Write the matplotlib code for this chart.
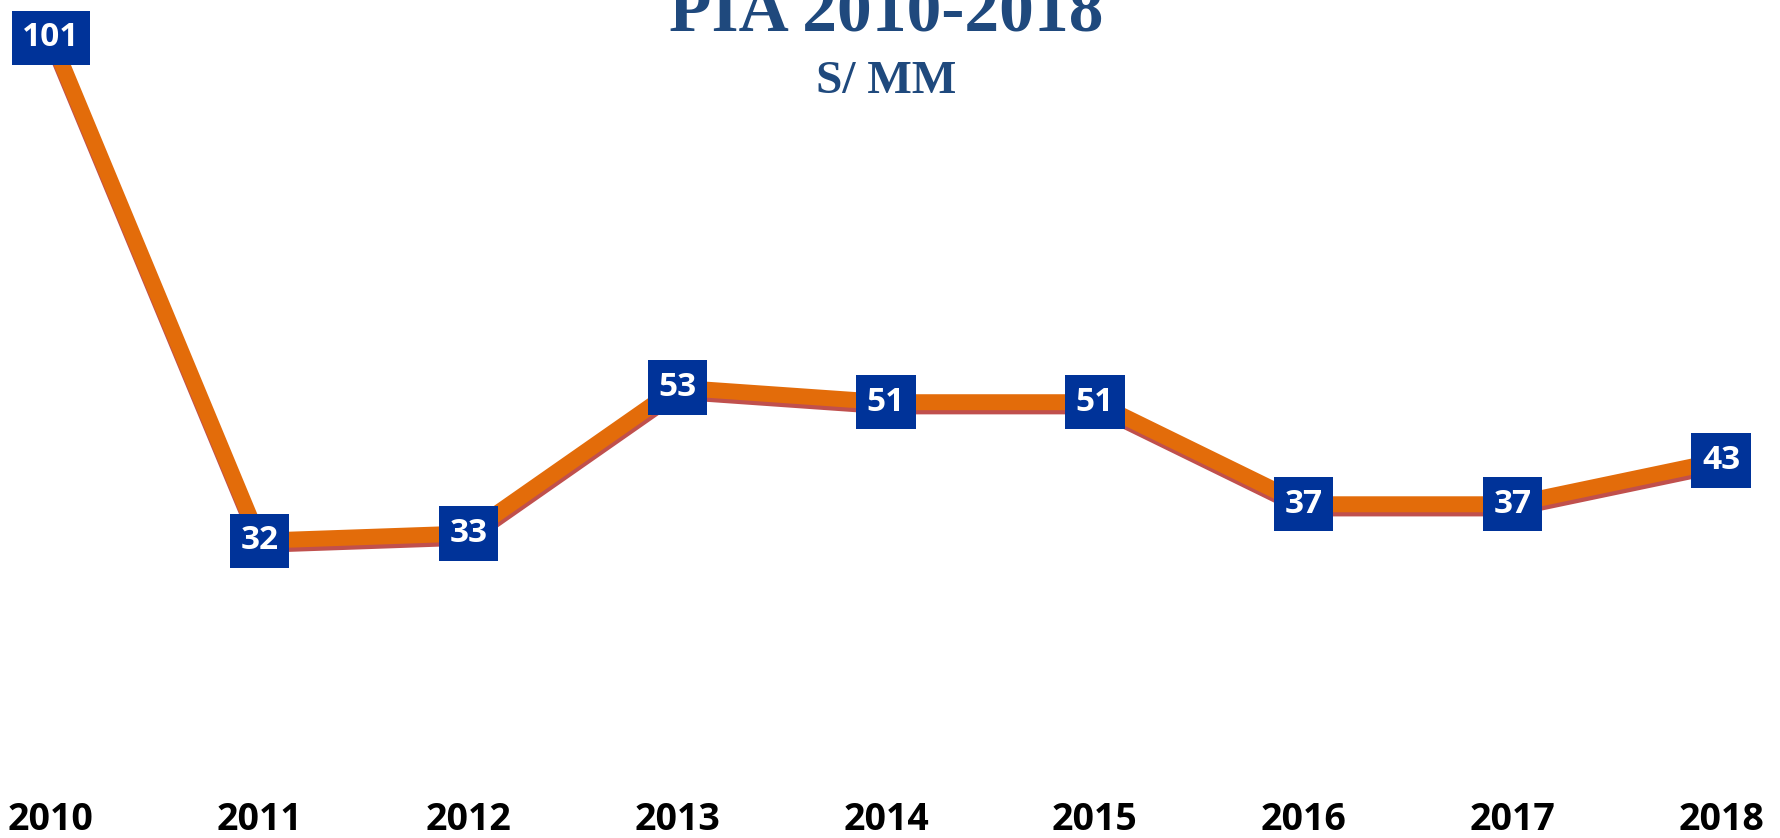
import matplotlib
matplotlib.use("Agg")
import matplotlib.pyplot as plt
import matplotlib.patheffects as pe

# data
years = ["2010", "2011", "2012", "2013", "2014", "2015", "2016", "2017", "2018"]
values = [101, 32, 33, 53, 51, 51, 37, 37, 43]

LINE_COLOR = "#E36C0A"
SHADOW_COLOR = "#C0504D"
BOX_COLOR = "#003399"
TITLE_COLOR = "#1F497D"

W, H = 1781, 838
fig = plt.figure(figsize=(W / 100, H / 100), dpi=100)

# axes bottom sits just above the year labels
bottom_px = 790
ax = fig.add_axes([0, (H - bottom_px) / H, 1, bottom_px / H])

x = list(range(len(years)))
ax.plot(
    x,
    values,
    color=LINE_COLOR,
    linewidth=11.5,
    solid_capstyle="butt",
    zorder=2,
    path_effects=[
        pe.SimpleLineShadow(offset=(0.5, -3), shadow_color=SHADOW_COLOR, alpha=1.0),
        pe.Normal(),
    ],
)

for xi, v in zip(x, values):
    ax.text(
        xi, v, str(v),
        ha="center", va="center",
        color="white", fontsize=24, fontweight="bold", family="Open Sans",
        bbox=dict(boxstyle="square,pad=0.32", facecolor=BOX_COLOR, edgecolor="none"),
        zorder=3,
    )

# pixel -> data mapping
x0_px, dx_px = 51, 208.75
y0_px, dy_px = 774, 7.29
ax.set_xlim(-x0_px / dx_px, (W - x0_px) / dx_px)
ax.set_ylim((y0_px - bottom_px) / dy_px, y0_px / dy_px)

ax.set_xticks(x)
ax.set_xticklabels(years, fontsize=27, fontweight="bold", family="Open Sans", color="black")
ax.tick_params(axis="x", length=0, pad=8)
ax.set_yticks([])
for s in ax.spines.values():
    s.set_visible(False)

fig.text(886 / W, 1 - 32 / H, "PIA 2010-2018", ha="center", va="baseline",
         fontsize=50, fontweight="bold", family="Liberation Serif", color=TITLE_COLOR)
fig.text(886 / W, 1 - 93 / H, "S/ MM", ha="center", va="baseline",
         fontsize=34, fontweight="bold", family="Liberation Serif", color=TITLE_COLOR)

fig.savefig("out.png", dpi=100)
